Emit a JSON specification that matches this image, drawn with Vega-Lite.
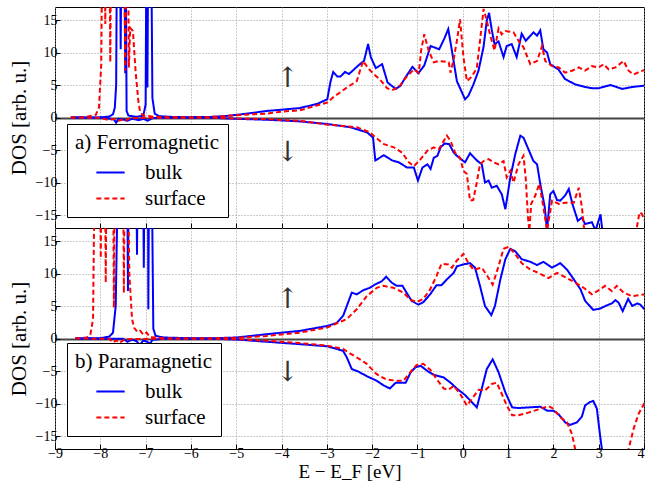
{
"$schema": "https://vega.github.io/schema/vega-lite/v6.json",
"padding": {"left": 7, "top": 6, "right": 0, "bottom": 0},
"bounds": "flush",
"spacing": 0,
"config": {
  "view": {"stroke": "black", "strokeWidth": 1},
  "font": "Liberation Serif",
  "style": {
    "guide-label": {"font": "Liberation Serif", "fontSize": 14, "fill": "black"},
    "guide-title": {"font": "Liberation Serif", "fontWeight": "normal", "fill": "black"}
  },
  "axis": {
    "domain": false, "tickColor": "black", "tickSize": -5, "tickWidth": 1,
    "labelFont": "Liberation Serif", "labelFontSize": 14, "labelOverlap": false, "labelColor": "black",
    "titleFont": "Liberation Serif", "titleFontWeight": "normal", "titleColor": "black",
    "gridColor": "#999", "gridDash": [1, 2], "gridWidth": 1, "gridOpacity": 1
  },
  "legend": {
    "orient": "none", "symbolType": "stroke", "symbolSize": 800, "symbolStrokeWidth": 2,
    "symbolOffset": 20, "labelOffset": 19, "titleFont": "Liberation Serif", "labelFont": "Liberation Serif",
    "titleFontSize": 21, "labelFontSize": 21, "titleFontWeight": "normal", "titleColor": "black", "labelColor": "black",
    "strokeColor": "black", "fillColor": "white", "padding": 8, "cornerRadius": 0, "titlePadding": 4, "rowPadding": 0
  }
},
"datasets": {
  "fm": [
{"s":"u","t":"bulk","x":-8.65,"y":0},{"s":"u","t":"bulk","x":-8.0,"y":0.02},{"s":"u","t":"bulk","x":-7.8,"y":0.15},{"s":"u","t":"bulk","x":-7.72,"y":0.5},{"s":"u","t":"bulk","x":-7.68,"y":1.5},{"s":"u","t":"bulk","x":-7.65,"y":5},{"s":"u","t":"bulk","x":-7.63,"y":30},{"s":"u","t":"bulk","x":-7.57,"y":30},{"s":"u","t":"bulk","x":-7.55,"y":10.5},{"s":"u","t":"bulk","x":-7.53,"y":30},{"s":"u","t":"bulk","x":-7.47,"y":30},{"s":"u","t":"bulk","x":-7.45,"y":6.8},{"s":"u","t":"bulk","x":-7.44,"y":30},{"s":"u","t":"bulk","x":-7.42,"y":1},{"s":"u","t":"bulk","x":-7.38,"y":0.3},{"s":"u","t":"bulk","x":-7.2,"y":0.1},{"s":"u","t":"bulk","x":-7.05,"y":0.3},{"s":"u","t":"bulk","x":-7.0,"y":2},{"s":"u","t":"bulk","x":-6.98,"y":30},{"s":"u","t":"bulk","x":-6.96,"y":4.6},{"s":"u","t":"bulk","x":-6.94,"y":30},{"s":"u","t":"bulk","x":-6.88,"y":30},{"s":"u","t":"bulk","x":-6.85,"y":3},{"s":"u","t":"bulk","x":-6.8,"y":0.6},{"s":"u","t":"bulk","x":-6.7,"y":0.2},{"s":"u","t":"bulk","x":-6.4,"y":0.08},{"s":"u","t":"bulk","x":-6.0,"y":0.05},{"s":"u","t":"bulk","x":-5.5,"y":0.1},{"s":"u","t":"bulk","x":-5.2,"y":0.25},{"s":"u","t":"bulk","x":-5.0,"y":0.4},{"s":"u","t":"bulk","x":-4.6,"y":0.75},{"s":"u","t":"bulk","x":-4.33,"y":1.0},{"s":"u","t":"bulk","x":-4.0,"y":1.2},{"s":"u","t":"bulk","x":-3.6,"y":1.45},{"s":"u","t":"bulk","x":-3.21,"y":2.1},{"s":"u","t":"bulk","x":-2.99,"y":2.8},{"s":"u","t":"bulk","x":-2.92,"y":5.5},{"s":"u","t":"bulk","x":-2.86,"y":7.0},{"s":"u","t":"bulk","x":-2.77,"y":6.3},{"s":"u","t":"bulk","x":-2.7,"y":6.3},{"s":"u","t":"bulk","x":-2.6,"y":7.0},{"s":"u","t":"bulk","x":-2.51,"y":6.7},{"s":"u","t":"bulk","x":-2.4,"y":7.4},{"s":"u","t":"bulk","x":-2.29,"y":8.1},{"s":"u","t":"bulk","x":-2.18,"y":8.7},{"s":"u","t":"bulk","x":-2.09,"y":11.3},{"s":"u","t":"bulk","x":-2.03,"y":9.3},{"s":"u","t":"bulk","x":-1.92,"y":7.6},{"s":"u","t":"bulk","x":-1.78,"y":8.2},{"s":"u","t":"bulk","x":-1.66,"y":5.4},{"s":"u","t":"bulk","x":-1.59,"y":5.0},{"s":"u","t":"bulk","x":-1.48,"y":4.4},{"s":"u","t":"bulk","x":-1.37,"y":4.9},{"s":"u","t":"bulk","x":-1.29,"y":5.9},{"s":"u","t":"bulk","x":-1.11,"y":7.8},{"s":"u","t":"bulk","x":-0.98,"y":6.8},{"s":"u","t":"bulk","x":-0.85,"y":8.0},{"s":"u","t":"bulk","x":-0.71,"y":11.0},{"s":"u","t":"bulk","x":-0.52,"y":10.5},{"s":"u","t":"bulk","x":-0.41,"y":12.1},{"s":"u","t":"bulk","x":-0.32,"y":13.6},{"s":"u","t":"bulk","x":-0.24,"y":10.3},{"s":"u","t":"bulk","x":-0.13,"y":5.6},{"s":"u","t":"bulk","x":0.05,"y":2.8},{"s":"u","t":"bulk","x":0.125,"y":3.35},{"s":"u","t":"bulk","x":0.236,"y":5.1},{"s":"u","t":"bulk","x":0.347,"y":7.2},{"s":"u","t":"bulk","x":0.457,"y":10.8},{"s":"u","t":"bulk","x":0.53,"y":14.9},{"s":"u","t":"bulk","x":0.58,"y":16.1},{"s":"u","t":"bulk","x":0.64,"y":13.5},{"s":"u","t":"bulk","x":0.7,"y":11.3},{"s":"u","t":"bulk","x":0.79,"y":11.7},{"s":"u","t":"bulk","x":0.9,"y":9.3},{"s":"u","t":"bulk","x":0.97,"y":11.0},{"s":"u","t":"bulk","x":1.08,"y":11.3},{"s":"u","t":"bulk","x":1.19,"y":9.3},{"s":"u","t":"bulk","x":1.3,"y":12.9},{"s":"u","t":"bulk","x":1.39,"y":11.8},{"s":"u","t":"bulk","x":1.56,"y":13.1},{"s":"u","t":"bulk","x":1.64,"y":12.6},{"s":"u","t":"bulk","x":1.71,"y":13.4},{"s":"u","t":"bulk","x":1.78,"y":10.5},{"s":"u","t":"bulk","x":1.86,"y":10.0},{"s":"u","t":"bulk","x":1.93,"y":8.2},{"s":"u","t":"bulk","x":2.11,"y":7.4},{"s":"u","t":"bulk","x":2.26,"y":5.9},{"s":"u","t":"bulk","x":2.48,"y":5.1},{"s":"u","t":"bulk","x":2.7,"y":4.7},{"s":"u","t":"bulk","x":2.85,"y":4.5},{"s":"u","t":"bulk","x":3.0,"y":4.5},{"s":"u","t":"bulk","x":3.26,"y":5.0},{"s":"u","t":"bulk","x":3.52,"y":4.4},{"s":"u","t":"bulk","x":3.74,"y":4.7},{"s":"u","t":"bulk","x":4.02,"y":4.9},
{"s":"u","t":"surface","x":-8.65,"y":0},{"s":"u","t":"surface","x":-8.3,"y":0.1},{"s":"u","t":"surface","x":-8.1,"y":0.4},{"s":"u","t":"surface","x":-8.03,"y":1.5},{"s":"u","t":"surface","x":-7.98,"y":8},{"s":"u","t":"surface","x":-7.95,"y":30},{"s":"u","t":"surface","x":-7.91,"y":30},{"s":"u","t":"surface","x":-7.89,"y":14.4},{"s":"u","t":"surface","x":-7.87,"y":30},{"s":"u","t":"surface","x":-7.8,"y":30},{"s":"u","t":"surface","x":-7.78,"y":8.5},{"s":"u","t":"surface","x":-7.76,"y":30},{"s":"u","t":"surface","x":-7.48,"y":30},{"s":"u","t":"surface","x":-7.45,"y":7.2},{"s":"u","t":"surface","x":-7.42,"y":30},{"s":"u","t":"surface","x":-7.39,"y":30},{"s":"u","t":"surface","x":-7.37,"y":7.7},{"s":"u","t":"surface","x":-7.34,"y":13.8},{"s":"u","t":"surface","x":-7.28,"y":13.3},{"s":"u","t":"surface","x":-7.22,"y":7},{"s":"u","t":"surface","x":-7.16,"y":2.5},{"s":"u","t":"surface","x":-7.12,"y":0.8},{"s":"u","t":"surface","x":-7.05,"y":0.3},{"s":"u","t":"surface","x":-6.8,"y":0.1},{"s":"u","t":"surface","x":-6.0,"y":0.05},{"s":"u","t":"surface","x":-5.5,"y":0.1},{"s":"u","t":"surface","x":-5.0,"y":0.35},{"s":"u","t":"surface","x":-4.6,"y":0.5},{"s":"u","t":"surface","x":-4.33,"y":0.6},{"s":"u","t":"surface","x":-4.0,"y":0.9},{"s":"u","t":"surface","x":-3.6,"y":1.1},{"s":"u","t":"surface","x":-2.99,"y":2.3},{"s":"u","t":"surface","x":-2.86,"y":3.1},{"s":"u","t":"surface","x":-2.56,"y":4.6},{"s":"u","t":"surface","x":-2.34,"y":5.6},{"s":"u","t":"surface","x":-2.2,"y":8.7},{"s":"u","t":"surface","x":-2.09,"y":7.6},{"s":"u","t":"surface","x":-1.97,"y":6.7},{"s":"u","t":"surface","x":-1.82,"y":5.8},{"s":"u","t":"surface","x":-1.67,"y":4.5},{"s":"u","t":"surface","x":-1.56,"y":4.2},{"s":"u","t":"surface","x":-1.41,"y":4.7},{"s":"u","t":"surface","x":-1.26,"y":6.1},{"s":"u","t":"surface","x":-1.08,"y":7.4},{"s":"u","t":"surface","x":-0.97,"y":6.9},{"s":"u","t":"surface","x":-0.92,"y":10.3},{"s":"u","t":"surface","x":-0.85,"y":12.8},{"s":"u","t":"surface","x":-0.75,"y":10.2},{"s":"u","t":"surface","x":-0.64,"y":8.5},{"s":"u","t":"surface","x":-0.53,"y":8.7},{"s":"u","t":"surface","x":-0.42,"y":8.6},{"s":"u","t":"surface","x":-0.31,"y":8.5},{"s":"u","t":"surface","x":-0.27,"y":6.9},{"s":"u","t":"surface","x":-0.2,"y":9.0},{"s":"u","t":"surface","x":-0.13,"y":11.8},{"s":"u","t":"surface","x":-0.06,"y":15.1},{"s":"u","t":"surface","x":0.015,"y":9.3},{"s":"u","t":"surface","x":0.09,"y":5.6},{"s":"u","t":"surface","x":0.2,"y":6.3},{"s":"u","t":"surface","x":0.31,"y":7.6},{"s":"u","t":"surface","x":0.38,"y":11.8},{"s":"u","t":"surface","x":0.46,"y":16.7},{"s":"u","t":"surface","x":0.53,"y":14.9},{"s":"u","t":"surface","x":0.6,"y":12.8},{"s":"u","t":"surface","x":0.7,"y":10.3},{"s":"u","t":"surface","x":0.79,"y":13.7},{"s":"u","t":"surface","x":0.86,"y":12.8},{"s":"u","t":"surface","x":0.94,"y":13.3},{"s":"u","t":"surface","x":1.12,"y":13.1},{"s":"u","t":"surface","x":1.23,"y":11.8},{"s":"u","t":"surface","x":1.34,"y":10.8},{"s":"u","t":"surface","x":1.49,"y":8.2},{"s":"u","t":"surface","x":1.64,"y":8.7},{"s":"u","t":"surface","x":1.75,"y":11.0},{"s":"u","t":"surface","x":1.82,"y":8.7},{"s":"u","t":"surface","x":1.97,"y":7.9},{"s":"u","t":"surface","x":2.12,"y":7.7},{"s":"u","t":"surface","x":2.26,"y":6.9},{"s":"u","t":"surface","x":2.41,"y":7.2},{"s":"u","t":"surface","x":2.56,"y":7.7},{"s":"u","t":"surface","x":2.7,"y":7.2},{"s":"u","t":"surface","x":2.85,"y":7.9},{"s":"u","t":"surface","x":3.0,"y":7.7},{"s":"u","t":"surface","x":3.11,"y":8.2},{"s":"u","t":"surface","x":3.22,"y":7.4},{"s":"u","t":"surface","x":3.37,"y":7.7},{"s":"u","t":"surface","x":3.55,"y":8.7},{"s":"u","t":"surface","x":3.66,"y":7.2},{"s":"u","t":"surface","x":3.77,"y":6.6},{"s":"u","t":"surface","x":3.92,"y":7.1},{"s":"u","t":"surface","x":4.02,"y":7.3},
{"s":"d","t":"bulk","x":-8.65,"y":0},{"s":"d","t":"bulk","x":-7.9,"y":-0.05},{"s":"d","t":"bulk","x":-7.7,"y":-0.3},{"s":"d","t":"bulk","x":-7.65,"y":-0.8},{"s":"d","t":"bulk","x":-7.6,"y":-0.2},{"s":"d","t":"bulk","x":-7.5,"y":-0.3},{"s":"d","t":"bulk","x":-7.4,"y":-0.5},{"s":"d","t":"bulk","x":-7.3,"y":-0.2},{"s":"d","t":"bulk","x":-7.15,"y":-0.4},{"s":"d","t":"bulk","x":-7.05,"y":-0.2},{"s":"d","t":"bulk","x":-6.95,"y":-0.5},{"s":"d","t":"bulk","x":-6.85,"y":-0.1},{"s":"d","t":"bulk","x":-6.5,"y":-0.02},{"s":"d","t":"bulk","x":-5.5,"y":-0.05},{"s":"d","t":"bulk","x":-5.0,"y":-0.2},{"s":"d","t":"bulk","x":-4.33,"y":-0.35},{"s":"d","t":"bulk","x":-4.0,"y":-0.45},{"s":"d","t":"bulk","x":-3.6,"y":-0.6},{"s":"d","t":"bulk","x":-2.99,"y":-1.0},{"s":"d","t":"bulk","x":-2.48,"y":-1.5},{"s":"d","t":"bulk","x":-2.11,"y":-2.3},{"s":"d","t":"bulk","x":-1.98,"y":-3.1},{"s":"d","t":"bulk","x":-1.93,"y":-6.6},{"s":"d","t":"bulk","x":-1.74,"y":-5.8},{"s":"d","t":"bulk","x":-1.56,"y":-6.6},{"s":"d","t":"bulk","x":-1.41,"y":-6.9},{"s":"d","t":"bulk","x":-1.23,"y":-7.7},{"s":"d","t":"bulk","x":-1.08,"y":-7.7},{"s":"d","t":"bulk","x":-0.99,"y":-9.7},{"s":"d","t":"bulk","x":-0.89,"y":-7.7},{"s":"d","t":"bulk","x":-0.78,"y":-7.2},{"s":"d","t":"bulk","x":-0.71,"y":-7.9},{"s":"d","t":"bulk","x":-0.64,"y":-6.2},{"s":"d","t":"bulk","x":-0.56,"y":-5.9},{"s":"d","t":"bulk","x":-0.49,"y":-4.6},{"s":"d","t":"bulk","x":-0.4,"y":-4.0},{"s":"d","t":"bulk","x":-0.3,"y":-4.1},{"s":"d","t":"bulk","x":-0.2,"y":-5.4},{"s":"d","t":"bulk","x":-0.13,"y":-5.9},{"s":"d","t":"bulk","x":0.05,"y":-6.9},{"s":"d","t":"bulk","x":0.16,"y":-5.5},{"s":"d","t":"bulk","x":0.31,"y":-6.6},{"s":"d","t":"bulk","x":0.42,"y":-7.2},{"s":"d","t":"bulk","x":0.49,"y":-10.0},{"s":"d","t":"bulk","x":0.57,"y":-9.7},{"s":"d","t":"bulk","x":0.64,"y":-10.8},{"s":"d","t":"bulk","x":0.75,"y":-10.5},{"s":"d","t":"bulk","x":0.86,"y":-11.8},{"s":"d","t":"bulk","x":0.94,"y":-14.1},{"s":"d","t":"bulk","x":1.05,"y":-9.2},{"s":"d","t":"bulk","x":1.16,"y":-5.6},{"s":"d","t":"bulk","x":1.27,"y":-2.8},{"s":"d","t":"bulk","x":1.34,"y":-3.1},{"s":"d","t":"bulk","x":1.45,"y":-4.9},{"s":"d","t":"bulk","x":1.56,"y":-6.7},{"s":"d","t":"bulk","x":1.64,"y":-7.2},{"s":"d","t":"bulk","x":1.71,"y":-10.2},{"s":"d","t":"bulk","x":1.81,"y":-13.8},{"s":"d","t":"bulk","x":1.86,"y":-17.4},{"s":"d","t":"bulk","x":1.93,"y":-11.8},{"s":"d","t":"bulk","x":2.0,"y":-11.3},{"s":"d","t":"bulk","x":2.08,"y":-12.7},{"s":"d","t":"bulk","x":2.15,"y":-12.8},{"s":"d","t":"bulk","x":2.26,"y":-12.0},{"s":"d","t":"bulk","x":2.34,"y":-11.0},{"s":"d","t":"bulk","x":2.42,"y":-13.3},{"s":"d","t":"bulk","x":2.54,"y":-15.9},{"s":"d","t":"bulk","x":2.63,"y":-15.4},{"s":"d","t":"bulk","x":2.7,"y":-16.4},{"s":"d","t":"bulk","x":2.85,"y":-16.1},{"s":"d","t":"bulk","x":2.93,"y":-17.4},{"s":"d","t":"bulk","x":3.04,"y":-14.9},{"s":"d","t":"bulk","x":3.09,"y":-18},{"s":"d","t":"bulk","x":3.2,"y":-25},{"s":"d","t":"bulk","x":4.05,"y":-30},
{"s":"d","t":"surface","x":-8.65,"y":0},{"s":"d","t":"surface","x":-8.0,"y":-0.05},{"s":"d","t":"surface","x":-7.8,"y":-0.4},{"s":"d","t":"surface","x":-7.7,"y":-0.2},{"s":"d","t":"surface","x":-7.6,"y":-0.5},{"s":"d","t":"surface","x":-7.5,"y":-0.3},{"s":"d","t":"surface","x":-7.45,"y":-0.5},{"s":"d","t":"surface","x":-7.35,"y":-0.1},{"s":"d","t":"surface","x":-7.0,"y":-0.05},{"s":"d","t":"surface","x":-5.5,"y":-0.05},{"s":"d","t":"surface","x":-5.0,"y":-0.15},{"s":"d","t":"surface","x":-4.33,"y":-0.25},{"s":"d","t":"surface","x":-4.0,"y":-0.4},{"s":"d","t":"surface","x":-3.6,"y":-0.5},{"s":"d","t":"surface","x":-2.99,"y":-1.1},{"s":"d","t":"surface","x":-2.34,"y":-1.5},{"s":"d","t":"surface","x":-2.04,"y":-2.3},{"s":"d","t":"surface","x":-1.97,"y":-2.8},{"s":"d","t":"surface","x":-1.74,"y":-4.1},{"s":"d","t":"surface","x":-1.52,"y":-4.6},{"s":"d","t":"surface","x":-1.34,"y":-5.4},{"s":"d","t":"surface","x":-1.19,"y":-6.9},{"s":"d","t":"surface","x":-1.08,"y":-7.5},{"s":"d","t":"surface","x":-0.93,"y":-6.4},{"s":"d","t":"surface","x":-0.78,"y":-5.1},{"s":"d","t":"surface","x":-0.64,"y":-4.6},{"s":"d","t":"surface","x":-0.53,"y":-4.9},{"s":"d","t":"surface","x":-0.42,"y":-3.6},{"s":"d","t":"surface","x":-0.35,"y":-2.8},{"s":"d","t":"surface","x":-0.27,"y":-3.6},{"s":"d","t":"surface","x":-0.17,"y":-5.4},{"s":"d","t":"surface","x":-0.06,"y":-6.2},{"s":"d","t":"surface","x":0.015,"y":-8.2},{"s":"d","t":"surface","x":0.09,"y":-8.7},{"s":"d","t":"surface","x":0.16,"y":-12.8},{"s":"d","t":"surface","x":0.23,"y":-12.7},{"s":"d","t":"surface","x":0.31,"y":-10.0},{"s":"d","t":"surface","x":0.38,"y":-7.2},{"s":"d","t":"surface","x":0.46,"y":-6.7},{"s":"d","t":"surface","x":0.57,"y":-6.4},{"s":"d","t":"surface","x":0.68,"y":-6.9},{"s":"d","t":"surface","x":0.79,"y":-7.2},{"s":"d","t":"surface","x":0.9,"y":-6.7},{"s":"d","t":"surface","x":0.97,"y":-9.2},{"s":"d","t":"surface","x":1.05,"y":-8.2},{"s":"d","t":"surface","x":1.12,"y":-10.0},{"s":"d","t":"surface","x":1.23,"y":-7.2},{"s":"d","t":"surface","x":1.34,"y":-5.9},{"s":"d","t":"surface","x":1.39,"y":-9.4},{"s":"d","t":"surface","x":1.44,"y":-15.4},{"s":"d","t":"surface","x":1.47,"y":-17.4},{"s":"d","t":"surface","x":1.51,"y":-13.3},{"s":"d","t":"surface","x":1.6,"y":-12.0},{"s":"d","t":"surface","x":1.69,"y":-10.2},{"s":"d","t":"surface","x":1.78,"y":-13.8},{"s":"d","t":"surface","x":1.86,"y":-17.4},{"s":"d","t":"surface","x":1.97,"y":-12.8},{"s":"d","t":"surface","x":2.12,"y":-13.3},{"s":"d","t":"surface","x":2.26,"y":-13.1},{"s":"d","t":"surface","x":2.45,"y":-13.1},{"s":"d","t":"surface","x":2.56,"y":-10.8},{"s":"d","t":"surface","x":2.63,"y":-13.8},{"s":"d","t":"surface","x":2.69,"y":-18},{"s":"d","t":"surface","x":2.8,"y":-25},{"s":"d","t":"surface","x":3.75,"y":-25},{"s":"d","t":"surface","x":3.84,"y":-17},{"s":"d","t":"surface","x":3.9,"y":-14.6},{"s":"d","t":"surface","x":3.95,"y":-14.8},{"s":"d","t":"surface","x":4.02,"y":-15.9}
  ],
  "pm": [
{"s":"u","t":"bulk","x":-8.55,"y":0},{"s":"u","t":"bulk","x":-8.0,"y":0.05},{"s":"u","t":"bulk","x":-7.8,"y":0.3},{"s":"u","t":"bulk","x":-7.72,"y":0.9},{"s":"u","t":"bulk","x":-7.66,"y":5},{"s":"u","t":"bulk","x":-7.6,"y":30},{"s":"u","t":"bulk","x":-7.41,"y":30},{"s":"u","t":"bulk","x":-7.39,"y":7.3},{"s":"u","t":"bulk","x":-7.37,"y":30},{"s":"u","t":"bulk","x":-7.21,"y":30},{"s":"u","t":"bulk","x":-7.19,"y":12.9},{"s":"u","t":"bulk","x":-7.17,"y":30},{"s":"u","t":"bulk","x":-7.06,"y":30},{"s":"u","t":"bulk","x":-7.04,"y":10.9},{"s":"u","t":"bulk","x":-7.02,"y":30},{"s":"u","t":"bulk","x":-6.95,"y":30},{"s":"u","t":"bulk","x":-6.94,"y":4.5},{"s":"u","t":"bulk","x":-6.92,"y":30},{"s":"u","t":"bulk","x":-6.87,"y":30},{"s":"u","t":"bulk","x":-6.83,"y":1.5},{"s":"u","t":"bulk","x":-6.78,"y":0.4},{"s":"u","t":"bulk","x":-6.6,"y":0.15},{"s":"u","t":"bulk","x":-6.0,"y":0.05},{"s":"u","t":"bulk","x":-5.5,"y":0.05},{"s":"u","t":"bulk","x":-5.0,"y":0.15},{"s":"u","t":"bulk","x":-4.33,"y":0.66},{"s":"u","t":"bulk","x":-3.6,"y":1.17},{"s":"u","t":"bulk","x":-2.99,"y":1.93},{"s":"u","t":"bulk","x":-2.78,"y":2.4},{"s":"u","t":"bulk","x":-2.64,"y":3.5},{"s":"u","t":"bulk","x":-2.56,"y":5.0},{"s":"u","t":"bulk","x":-2.45,"y":7.05},{"s":"u","t":"bulk","x":-2.34,"y":6.8},{"s":"u","t":"bulk","x":-2.19,"y":7.45},{"s":"u","t":"bulk","x":-2.05,"y":7.8},{"s":"u","t":"bulk","x":-1.94,"y":8.3},{"s":"u","t":"bulk","x":-1.79,"y":8.8},{"s":"u","t":"bulk","x":-1.69,"y":9.5},{"s":"u","t":"bulk","x":-1.57,"y":8.6},{"s":"u","t":"bulk","x":-1.46,"y":8.1},{"s":"u","t":"bulk","x":-1.33,"y":8.1},{"s":"u","t":"bulk","x":-1.24,"y":7.05},{"s":"u","t":"bulk","x":-1.13,"y":5.8},{"s":"u","t":"bulk","x":-0.98,"y":5.2},{"s":"u","t":"bulk","x":-0.87,"y":5.6},{"s":"u","t":"bulk","x":-0.72,"y":6.8},{"s":"u","t":"bulk","x":-0.58,"y":8.2},{"s":"u","t":"bulk","x":-0.47,"y":8.2},{"s":"u","t":"bulk","x":-0.35,"y":9.1},{"s":"u","t":"bulk","x":-0.2,"y":10.1},{"s":"u","t":"bulk","x":-0.13,"y":11.1},{"s":"u","t":"bulk","x":0.015,"y":11.4},{"s":"u","t":"bulk","x":0.16,"y":11.6},{"s":"u","t":"bulk","x":0.27,"y":10.9},{"s":"u","t":"bulk","x":0.38,"y":8.1},{"s":"u","t":"bulk","x":0.49,"y":5.0},{"s":"u","t":"bulk","x":0.63,"y":3.6},{"s":"u","t":"bulk","x":0.71,"y":5.0},{"s":"u","t":"bulk","x":0.83,"y":9.1},{"s":"u","t":"bulk","x":0.94,"y":12.2},{"s":"u","t":"bulk","x":1.05,"y":13.8},{"s":"u","t":"bulk","x":1.16,"y":13.4},{"s":"u","t":"bulk","x":1.3,"y":12.2},{"s":"u","t":"bulk","x":1.49,"y":11.8},{"s":"u","t":"bulk","x":1.64,"y":11.3},{"s":"u","t":"bulk","x":1.78,"y":11.8},{"s":"u","t":"bulk","x":1.97,"y":10.9},{"s":"u","t":"bulk","x":2.15,"y":11.6},{"s":"u","t":"bulk","x":2.3,"y":10.6},{"s":"u","t":"bulk","x":2.45,"y":9.1},{"s":"u","t":"bulk","x":2.6,"y":7.55},{"s":"u","t":"bulk","x":2.7,"y":5.8},{"s":"u","t":"bulk","x":2.88,"y":4.4},{"s":"u","t":"bulk","x":3.03,"y":4.6},{"s":"u","t":"bulk","x":3.18,"y":5.1},{"s":"u","t":"bulk","x":3.29,"y":5.4},{"s":"u","t":"bulk","x":3.37,"y":5.9},{"s":"u","t":"bulk","x":3.44,"y":5.5},{"s":"u","t":"bulk","x":3.53,"y":4.2},{"s":"u","t":"bulk","x":3.65,"y":6.1},{"s":"u","t":"bulk","x":3.74,"y":5.0},{"s":"u","t":"bulk","x":3.85,"y":5.4},{"s":"u","t":"bulk","x":3.92,"y":5.2},{"s":"u","t":"bulk","x":4.02,"y":4.4},
{"s":"u","t":"surface","x":-8.55,"y":0},{"s":"u","t":"surface","x":-8.3,"y":0.15},{"s":"u","t":"surface","x":-8.22,"y":0.6},{"s":"u","t":"surface","x":-8.16,"y":3},{"s":"u","t":"surface","x":-8.12,"y":30},{"s":"u","t":"surface","x":-8.01,"y":30},{"s":"u","t":"surface","x":-7.99,"y":12.4},{"s":"u","t":"surface","x":-7.97,"y":30},{"s":"u","t":"surface","x":-7.9,"y":30},{"s":"u","t":"surface","x":-7.88,"y":8.6},{"s":"u","t":"surface","x":-7.86,"y":30},{"s":"u","t":"surface","x":-7.72,"y":30},{"s":"u","t":"surface","x":-7.7,"y":4.7},{"s":"u","t":"surface","x":-7.68,"y":30},{"s":"u","t":"surface","x":-7.5,"y":30},{"s":"u","t":"surface","x":-7.48,"y":7.0},{"s":"u","t":"surface","x":-7.46,"y":30},{"s":"u","t":"surface","x":-7.4,"y":30},{"s":"u","t":"surface","x":-7.36,"y":10},{"s":"u","t":"surface","x":-7.3,"y":3},{"s":"u","t":"surface","x":-7.25,"y":1.6},{"s":"u","t":"surface","x":-7.18,"y":1.0},{"s":"u","t":"surface","x":-7.12,"y":1.2},{"s":"u","t":"surface","x":-7.05,"y":0.6},{"s":"u","t":"surface","x":-6.98,"y":0.9},{"s":"u","t":"surface","x":-6.9,"y":0.2},{"s":"u","t":"surface","x":-6.6,"y":0.05},{"s":"u","t":"surface","x":-5.5,"y":0.05},{"s":"u","t":"surface","x":-5.0,"y":0.1},{"s":"u","t":"surface","x":-4.33,"y":0.4},{"s":"u","t":"surface","x":-3.6,"y":0.9},{"s":"u","t":"surface","x":-2.99,"y":1.7},{"s":"u","t":"surface","x":-2.56,"y":3.0},{"s":"u","t":"surface","x":-2.34,"y":4.5},{"s":"u","t":"surface","x":-2.12,"y":6.5},{"s":"u","t":"surface","x":-1.9,"y":7.8},{"s":"u","t":"surface","x":-1.75,"y":8.1},{"s":"u","t":"surface","x":-1.53,"y":7.8},{"s":"u","t":"surface","x":-1.31,"y":7.05},{"s":"u","t":"surface","x":-1.16,"y":6.0},{"s":"u","t":"surface","x":-1.02,"y":5.6},{"s":"u","t":"surface","x":-0.87,"y":6.1},{"s":"u","t":"surface","x":-0.72,"y":7.55},{"s":"u","t":"surface","x":-0.58,"y":9.6},{"s":"u","t":"surface","x":-0.47,"y":11.5},{"s":"u","t":"surface","x":-0.32,"y":11.4},{"s":"u","t":"surface","x":-0.24,"y":10.9},{"s":"u","t":"surface","x":-0.13,"y":12.0},{"s":"u","t":"surface","x":0.015,"y":13.0},{"s":"u","t":"surface","x":0.125,"y":11.6},{"s":"u","t":"surface","x":0.236,"y":10.6},{"s":"u","t":"surface","x":0.42,"y":10.9},{"s":"u","t":"surface","x":0.57,"y":9.3},{"s":"u","t":"surface","x":0.66,"y":8.3},{"s":"u","t":"surface","x":0.78,"y":10.9},{"s":"u","t":"surface","x":0.9,"y":13.8},{"s":"u","t":"surface","x":1.01,"y":14.1},{"s":"u","t":"surface","x":1.12,"y":13.3},{"s":"u","t":"surface","x":1.3,"y":11.6},{"s":"u","t":"surface","x":1.49,"y":10.6},{"s":"u","t":"surface","x":1.67,"y":10.1},{"s":"u","t":"surface","x":1.89,"y":9.3},{"s":"u","t":"surface","x":2.08,"y":10.1},{"s":"u","t":"surface","x":2.3,"y":9.3},{"s":"u","t":"surface","x":2.48,"y":8.6},{"s":"u","t":"surface","x":2.67,"y":7.8},{"s":"u","t":"surface","x":2.85,"y":6.8},{"s":"u","t":"surface","x":3.03,"y":7.55},{"s":"u","t":"surface","x":3.14,"y":8.1},{"s":"u","t":"surface","x":3.29,"y":7.3},{"s":"u","t":"surface","x":3.4,"y":8.1},{"s":"u","t":"surface","x":3.55,"y":7.05},{"s":"u","t":"surface","x":3.74,"y":6.5},{"s":"u","t":"surface","x":4.02,"y":6.8},
{"s":"d","t":"bulk","x":-8.55,"y":0},{"s":"d","t":"bulk","x":-7.5,"y":-0.05},{"s":"d","t":"bulk","x":-7.4,"y":-0.5},{"s":"d","t":"bulk","x":-7.3,"y":-0.2},{"s":"d","t":"bulk","x":-7.2,"y":-0.4},{"s":"d","t":"bulk","x":-7.13,"y":-1.0},{"s":"d","t":"bulk","x":-7.05,"y":-0.3},{"s":"d","t":"bulk","x":-6.97,"y":-0.5},{"s":"d","t":"bulk","x":-6.9,"y":-0.8},{"s":"d","t":"bulk","x":-6.85,"y":-0.2},{"s":"d","t":"bulk","x":-6.6,"y":-0.05},{"s":"d","t":"bulk","x":-5.5,"y":-0.05},{"s":"d","t":"bulk","x":-5.0,"y":-0.15},{"s":"d","t":"bulk","x":-4.33,"y":-0.5},{"s":"d","t":"bulk","x":-3.6,"y":-0.87},{"s":"d","t":"bulk","x":-2.99,"y":-1.2},{"s":"d","t":"bulk","x":-2.64,"y":-1.9},{"s":"d","t":"bulk","x":-2.56,"y":-2.9},{"s":"d","t":"bulk","x":-2.45,"y":-4.7},{"s":"d","t":"bulk","x":-2.3,"y":-5.1},{"s":"d","t":"bulk","x":-2.12,"y":-5.8},{"s":"d","t":"bulk","x":-1.9,"y":-6.5},{"s":"d","t":"bulk","x":-1.75,"y":-7.2},{"s":"d","t":"bulk","x":-1.61,"y":-7.7},{"s":"d","t":"bulk","x":-1.48,"y":-6.8},{"s":"d","t":"bulk","x":-1.37,"y":-6.8},{"s":"d","t":"bulk","x":-1.26,"y":-6.8},{"s":"d","t":"bulk","x":-1.15,"y":-5.2},{"s":"d","t":"bulk","x":-1.04,"y":-4.4},{"s":"d","t":"bulk","x":-0.93,"y":-4.2},{"s":"d","t":"bulk","x":-0.78,"y":-5.0},{"s":"d","t":"bulk","x":-0.64,"y":-5.6},{"s":"d","t":"bulk","x":-0.53,"y":-5.8},{"s":"d","t":"bulk","x":-0.42,"y":-6.0},{"s":"d","t":"bulk","x":-0.27,"y":-6.8},{"s":"d","t":"bulk","x":-0.13,"y":-7.7},{"s":"d","t":"bulk","x":0.05,"y":-8.7},{"s":"d","t":"bulk","x":0.31,"y":-10.6},{"s":"d","t":"bulk","x":0.42,"y":-7.7},{"s":"d","t":"bulk","x":0.53,"y":-4.7},{"s":"d","t":"bulk","x":0.66,"y":-3.2},{"s":"d","t":"bulk","x":0.79,"y":-5.2},{"s":"d","t":"bulk","x":0.94,"y":-8.3},{"s":"d","t":"bulk","x":1.09,"y":-10.6},{"s":"d","t":"bulk","x":1.23,"y":-10.7},{"s":"d","t":"bulk","x":1.45,"y":-10.6},{"s":"d","t":"bulk","x":1.71,"y":-10.5},{"s":"d","t":"bulk","x":1.86,"y":-11.1},{"s":"d","t":"bulk","x":2.0,"y":-11.1},{"s":"d","t":"bulk","x":2.12,"y":-11.7},{"s":"d","t":"bulk","x":2.26,"y":-12.9},{"s":"d","t":"bulk","x":2.37,"y":-13.3},{"s":"d","t":"bulk","x":2.52,"y":-12.9},{"s":"d","t":"bulk","x":2.63,"y":-12.0},{"s":"d","t":"bulk","x":2.7,"y":-10.3},{"s":"d","t":"bulk","x":2.8,"y":-9.8},{"s":"d","t":"bulk","x":2.88,"y":-9.6},{"s":"d","t":"bulk","x":2.96,"y":-10.8},{"s":"d","t":"bulk","x":3.03,"y":-14.9},{"s":"d","t":"bulk","x":3.08,"y":-17.5},{"s":"d","t":"bulk","x":3.15,"y":-25},{"s":"d","t":"bulk","x":4.05,"y":-30},
{"s":"d","t":"surface","x":-8.55,"y":0},{"s":"d","t":"surface","x":-7.8,"y":-0.05},{"s":"d","t":"surface","x":-7.72,"y":-0.6},{"s":"d","t":"surface","x":-7.65,"y":-0.3},{"s":"d","t":"surface","x":-7.58,"y":-0.7},{"s":"d","t":"surface","x":-7.5,"y":-0.3},{"s":"d","t":"surface","x":-7.4,"y":-0.1},{"s":"d","t":"surface","x":-6.9,"y":-0.05},{"s":"d","t":"surface","x":-5.5,"y":-0.05},{"s":"d","t":"surface","x":-5.0,"y":-0.1},{"s":"d","t":"surface","x":-4.33,"y":-0.35},{"s":"d","t":"surface","x":-3.6,"y":-0.7},{"s":"d","t":"surface","x":-2.99,"y":-1.1},{"s":"d","t":"surface","x":-2.64,"y":-1.6},{"s":"d","t":"surface","x":-2.49,"y":-2.3},{"s":"d","t":"surface","x":-2.27,"y":-3.2},{"s":"d","t":"surface","x":-2.12,"y":-3.9},{"s":"d","t":"surface","x":-1.9,"y":-5.5},{"s":"d","t":"surface","x":-1.69,"y":-6.3},{"s":"d","t":"surface","x":-1.46,"y":-6.5},{"s":"d","t":"surface","x":-1.31,"y":-6.5},{"s":"d","t":"surface","x":-1.16,"y":-5.2},{"s":"d","t":"surface","x":-1.02,"y":-4.1},{"s":"d","t":"surface","x":-0.87,"y":-3.9},{"s":"d","t":"surface","x":-0.72,"y":-4.8},{"s":"d","t":"surface","x":-0.58,"y":-6.2},{"s":"d","t":"surface","x":-0.42,"y":-7.7},{"s":"d","t":"surface","x":-0.32,"y":-7.9},{"s":"d","t":"surface","x":-0.2,"y":-7.3},{"s":"d","t":"surface","x":-0.06,"y":-8.5},{"s":"d","t":"surface","x":0.09,"y":-10.3},{"s":"d","t":"surface","x":0.2,"y":-9.3},{"s":"d","t":"surface","x":0.35,"y":-7.9},{"s":"d","t":"surface","x":0.49,"y":-8.0},{"s":"d","t":"surface","x":0.64,"y":-7.0},{"s":"d","t":"surface","x":0.75,"y":-6.8},{"s":"d","t":"surface","x":0.86,"y":-8.5},{"s":"d","t":"surface","x":0.97,"y":-10.3},{"s":"d","t":"surface","x":1.09,"y":-11.8},{"s":"d","t":"surface","x":1.23,"y":-11.8},{"s":"d","t":"surface","x":1.45,"y":-11.4},{"s":"d","t":"surface","x":1.67,"y":-10.9},{"s":"d","t":"surface","x":1.89,"y":-10.4},{"s":"d","t":"surface","x":2.0,"y":-10.8},{"s":"d","t":"surface","x":2.15,"y":-12.1},{"s":"d","t":"surface","x":2.3,"y":-12.9},{"s":"d","t":"surface","x":2.41,"y":-14.7},{"s":"d","t":"surface","x":2.48,"y":-17},{"s":"d","t":"surface","x":2.55,"y":-25},{"s":"d","t":"surface","x":3.6,"y":-25},{"s":"d","t":"surface","x":3.66,"y":-17},{"s":"d","t":"surface","x":3.77,"y":-13.9},{"s":"d","t":"surface","x":3.88,"y":-11.6},{"s":"d","t":"surface","x":4.02,"y":-9.8}
  ],
  "arrA": [{"x":-3.87,"y":5.9,"a":"↑"},{"x":-3.87,"y":-5.4,"a":"↓"}],
  "arrB": [{"x":-3.87,"y":5.9,"a":"↑"},{"x":-3.87,"y":-5.3,"a":"↓"}]
},
"vconcat": [
  {
    "width": 589, "height": 221,
    "encoding": {
      "x": {"field": "x", "type": "quantitative", "scale": {"domain": [-9, 4], "nice": false},
            "axis": {"values": [-9,-8,-7,-6,-5,-4,-3,-2,-1,0,1,2,3,4], "labels": false, "title": null, "grid": true}},
      "y": {"field": "y", "type": "quantitative", "scale": {"domain": [-17, 17], "nice": false, "zero": false},
            "axis": {"values": [-15,-10,-5,0,5,10,15], "title": "DOS [arb. u.]", "titleFontSize": 21,
                     "labelFont": "Liberation Serif", "labelFontSize": 14, "labelOverlap": false, "labelPadding": 3, "titlePadding": 6, "grid": true,
                     "gridColor": {"condition": {"test": "datum.value === 0", "value": "#444"}, "value": "#999"},
                     "gridDash": {"condition": {"test": "datum.value === 0", "value": []}, "value": [1, 2]},
                     "gridWidth": {"condition": {"test": "datum.value === 0", "value": 2}, "value": 1}}}
    },
    "layer": [
      {
        "data": {"name": "fm"},
        "mark": {"type": "line", "clip": true, "strokeWidth": 2},
        "encoding": {
          "detail": {"field": "s"},
          "color": {"field": "t", "type": "nominal", "scale": {"domain": ["bulk","surface"], "range": ["#0000ff","#ff0000"]},
                    "legend": {"title": "a) Ferromagnetic", "legendX": 12, "legendY": 117}},
          "strokeDash": {"field": "t", "type": "nominal", "scale": {"domain": ["bulk","surface"], "range": [[1,0],[5,3]]},
                    "legend": {"title": "a) Ferromagnetic", "legendX": 12, "legendY": 117}}
        }
      },
      {
        "data": {"name": "arrA"},
        "mark": {"type": "text", "font": "DejaVu Serif", "fontSize": 28, "color": "#333", "baseline": "middle", "align": "center"},
        "encoding": {"text": {"field": "a"}}
      }
    ]
  },
  {
    "width": 589, "height": 221,
    "encoding": {
      "x": {"field": "x", "type": "quantitative", "scale": {"domain": [-9, 4], "nice": false},
            "axis": {"values": [-9,-8,-7,-6,-5,-4,-3,-2,-1,0,1,2,3,4], "title": "E − E_F [eV]", "titleFontSize": 19,
                     "labelFont": "Liberation Serif", "labelFontSize": 14, "labelOverlap": false, "grid": true, "labelPadding": 2, "titlePadding": 2,
                     "labelAlign": {"condition": {"test": "datum.value === 4", "value": "right"}, "value": "center"}}},
      "y": {"field": "y", "type": "quantitative", "scale": {"domain": [-17, 17], "nice": false, "zero": false},
            "axis": {"values": [-15,-10,-5,0,5,10,15], "title": "DOS [arb. u.]", "titleFontSize": 21,
                     "labelFont": "Liberation Serif", "labelFontSize": 14, "labelOverlap": false, "labelPadding": 3, "titlePadding": 6, "grid": true,
                     "gridColor": {"condition": {"test": "datum.value === 0", "value": "#444"}, "value": "#999"},
                     "gridDash": {"condition": {"test": "datum.value === 0", "value": []}, "value": [1, 2]},
                     "gridWidth": {"condition": {"test": "datum.value === 0", "value": 2}, "value": 1}}}
    },
    "layer": [
      {
        "data": {"name": "pm"},
        "mark": {"type": "line", "clip": true, "strokeWidth": 2},
        "encoding": {
          "detail": {"field": "s"},
          "color": {"field": "t", "type": "nominal", "scale": {"domain": ["bulk","surface"], "range": ["#0000ff","#ff0000"]},
                    "legend": {"title": "b) Paramagnetic", "legendX": 12, "legendY": 115}},
          "strokeDash": {"field": "t", "type": "nominal", "scale": {"domain": ["bulk","surface"], "range": [[1,0],[5,3]]},
                    "legend": {"title": "b) Paramagnetic", "legendX": 12, "legendY": 115}}
        }
      },
      {
        "data": {"name": "arrB"},
        "mark": {"type": "text", "font": "DejaVu Serif", "fontSize": 28, "color": "#333", "baseline": "middle", "align": "center"},
        "encoding": {"text": {"field": "a"}}
      }
    ]
  }
],
"resolve": {"scale": {"color": "independent", "strokeDash": "independent"}}
}
